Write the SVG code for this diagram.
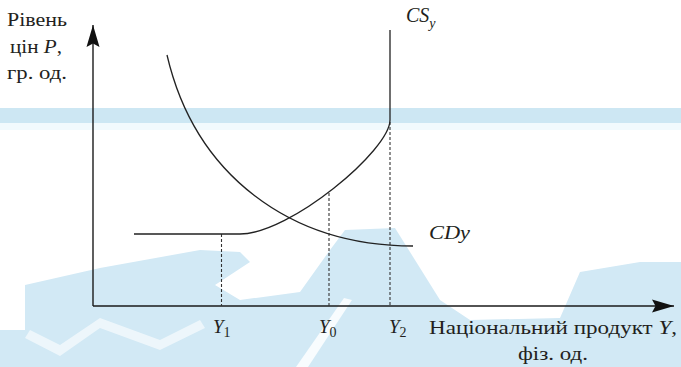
<svg xmlns="http://www.w3.org/2000/svg" width="681" height="367" viewBox="0 0 681 367">
<style>
text{fill:#231f20;font-size:19px;font-family:"Liberation Serif","DejaVu Serif",serif}
.it{font-style:italic}
.sub{font-size:14px;font-style:normal}
.ax{stroke:#1a1a1a;stroke-width:1.4;fill:none}
.cv{stroke:#222;stroke-width:1.3;fill:none}
.dash{stroke:#333;stroke-width:1.1;stroke-dasharray:3 2;fill:none}
.wm{fill:#d2e9f5}
</style>
<defs>
<marker id="arr" markerUnits="userSpaceOnUse" markerWidth="30" markerHeight="20" viewBox="-24 -10 30 20" refX="0" refY="0" orient="auto">
<path d="M0,0 L-22,-6.5 L-18.5,0 L-22,6.5 Z" fill="#111"/>
</marker>
</defs>
<g id="watermark">
<rect x="0" y="108" width="681" height="15" fill="#cde7f3"/>
<rect x="0" y="123" width="681" height="7" fill="#f2fafd"/>
<polygon class="wm" points="25,285 100,268 200,250 240,252 250,262 215,285 240,300 300,292 330,250 345,230 395,228 440,300 470,320 560,318 580,272 640,262 681,262 681,367 0,367 0,330 25,330"/>
<polygon fill="#ffffff" points="296,367 308,367 352,300 344,298" opacity="0.85"/>
<polygon fill="#ffffff" points="30,330 60,345 100,318 160,340 200,320 205,328 160,350 100,328 60,356 25,338" opacity="0.6"/>
</g>
<g id="connectors">
<line class="ax" x1="93" y1="306" x2="93" y2="25" marker-end="url(#arr)"/>
<line class="ax" x1="93" y1="306" x2="674" y2="306" marker-end="url(#arr)"/>
<line class="dash" x1="221.5" y1="234" x2="221.5" y2="306"/>
<line class="dash" x1="329" y1="193" x2="329" y2="306"/>
<line class="dash" x1="390" y1="122" x2="390" y2="306"/>
</g>
<g id="CSy">
<path class="cv" d="M134,234 L240,234 C290,234 390,150 390,120 L390,30"/>
<text class="it" x="406" y="22" style="font-size:20px">CS<tspan style="font-size:14px" dy="6">y</tspan></text>
</g>
<g id="CDy">
<path class="cv" d="M167,55 C195,175 290,246 413,246"/>
<text class="it" x="429" y="239" textLength="41" lengthAdjust="spacingAndGlyphs">CDy</text>
</g>
<g id="yaxis-label">
<text x="37" y="26" text-anchor="middle" textLength="60" lengthAdjust="spacingAndGlyphs">Рівень</text>
<text x="36" y="53" text-anchor="middle" textLength="52" lengthAdjust="spacingAndGlyphs">цін <tspan class="it">P</tspan>,</text>
<text x="37" y="79" text-anchor="middle" textLength="60" lengthAdjust="spacingAndGlyphs">гр. од.</text>
</g>
<g id="ticks">
<text class="it" x="213" y="333">Y<tspan class="sub" dy="4">1</tspan></text>
<text class="it" x="319" y="333">Y<tspan class="sub" dy="4">0</tspan></text>
<text class="it" x="389" y="333">Y<tspan class="sub" dy="4">2</tspan></text>
</g>
<g id="xaxis-label">
<text x="429" y="334" textLength="248" lengthAdjust="spacingAndGlyphs">Національний продукт <tspan class="it">Y</tspan>,</text>
<text x="518" y="360" textLength="70" lengthAdjust="spacingAndGlyphs">фіз. од.</text>
</g>
</svg>
